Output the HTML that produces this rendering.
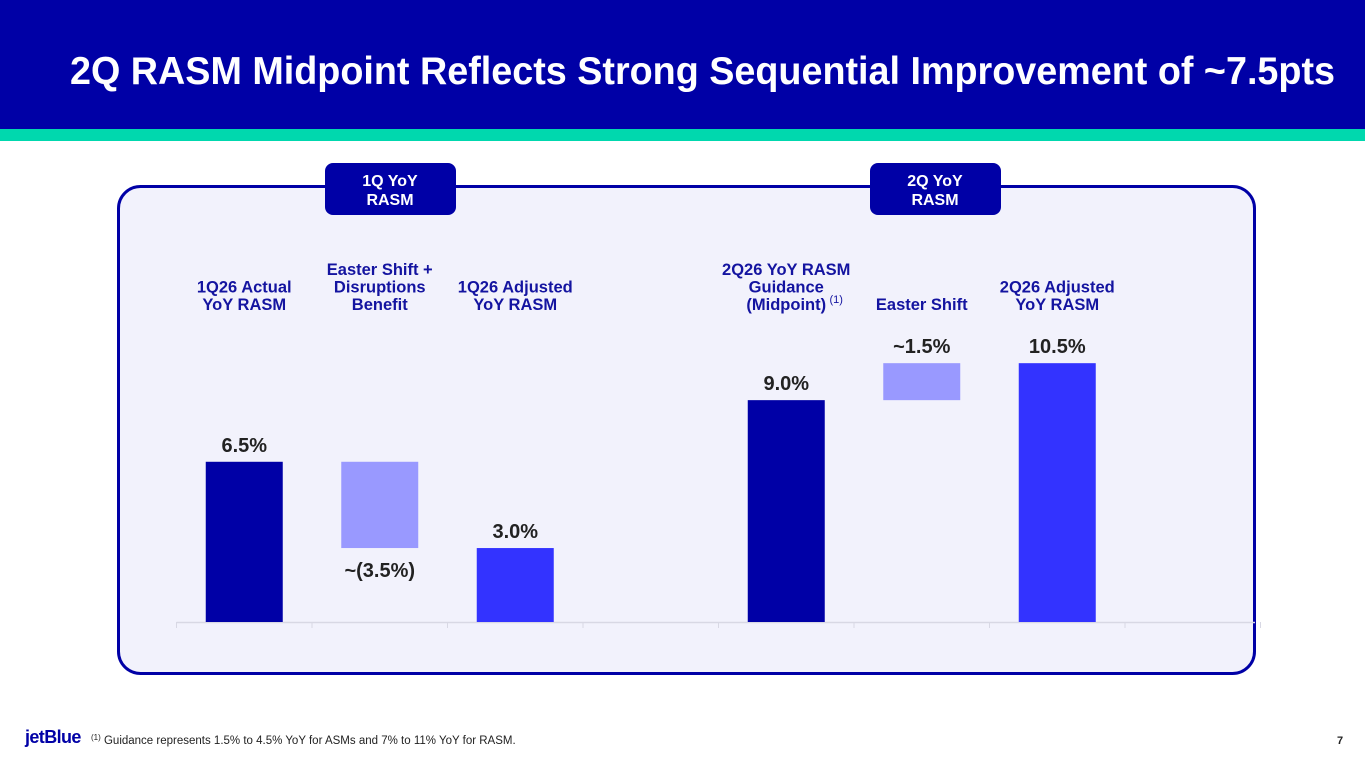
<!DOCTYPE html>
<html><head><meta charset="utf-8"><style>
html,body{margin:0;padding:0;background:#fff}
svg{display:block;font-family:"Liberation Sans",Arial,sans-serif}
</style></head><body>
<svg id="s" width="1365" height="768" viewBox="0 0 1365 768">
<rect x="0" y="0" width="1365" height="129" fill="#0000A6"/>
<rect x="0" y="129" width="1365" height="12" fill="#00D8AE"/>
<text x="70" y="84" fill="#fff" font-size="39" font-weight="bold" textLength="1265" lengthAdjust="spacingAndGlyphs">2Q RASM Midpoint Reflects Strong Sequential Improvement of ~7.5pts</text>
<rect x="118.5" y="186.5" width="1136" height="487" rx="22" fill="#F2F2FC" stroke="#0000A6" stroke-width="3"/>
<g>
<rect x="325" y="163" width="131" height="52" rx="8" fill="#0000A6"/>
<text x="390" y="186" fill="#fff" font-size="16" font-weight="bold" text-anchor="middle">1Q YoY</text>
<text x="390" y="205" fill="#fff" font-size="16" font-weight="bold" text-anchor="middle">RASM</text>
</g>
<g>
<rect x="870" y="163" width="131" height="52" rx="8" fill="#0000A6"/>
<text x="935" y="186" fill="#fff" font-size="16" font-weight="bold" text-anchor="middle">2Q YoY</text>
<text x="935" y="205" fill="#fff" font-size="16" font-weight="bold" text-anchor="middle">RASM</text>
</g>
<g id="chart"></g>
<text x="25" y="743" fill="#0000A6" font-size="18" font-weight="bold" letter-spacing="-0.6">jetBlue</text>
<text x="91" y="744" fill="#222" font-size="11.5"><tspan font-size="8" dy="-4">(1)</tspan><tspan dy="4"> Guidance represents 1.5% to 4.5% YoY for ASMs and 7% to 11% YoY for RASM.</tspan></text>
<text x="1337" y="744" fill="#222" font-size="11" font-weight="bold">7</text>
</svg>
<script>
const categories=[["1Q26 Actual","YoY RASM"],["Easter Shift +","Disruptions","Benefit"],["1Q26 Adjusted","YoY RASM"],[],["2Q26 YoY RASM","Guidance","(Midpoint)"],["Easter Shift"],["2Q26 Adjusted","YoY RASM"],[]];
const starts=[0,6.5,0,null,0,9.0,0,null];
const ends=[6.5,3.0,3.0,null,9.0,10.5,10.5,null];
const valueLabels=["6.5%","~(3.5%)","3.0%","","9.0%","~1.5%","10.5%",""];
const kinds=["total","delta","adjusted","","total","delta","adjusted",""];
const NS="http://www.w3.org/2000/svg";
const g=document.getElementById('chart');
const x0=176.5,step=135.5,base=622,pxPerPt=24.65,barW=77;
const xc=i=>x0+step*i+step/2;
const y=v=>base-v*pxPerPt;
const colors={total:"#0000A6",delta:"#9999FF",adjusted:"#3333FF"};
function mk(tag,attrs){const e=document.createElementNS(NS,tag);for(const k in attrs)e.setAttribute(k,attrs[k]);g.appendChild(e);return e;}
const ax=mk('line',{x1:x0,x2:1255,y1:base+0.5,y2:base+0.5,stroke:"#D8D8E4","stroke-width":1.5});


for(let i=0;i<=categories.length;i++){const t=mk('line',{x1:x0+step*i,x2:x0+step*i,y1:base,y2:base+6,stroke:"#D8D8E4","stroke-width":1});

}
categories.forEach((lines,i)=>{
  const n=lines.length;
  lines.forEach((ln,j)=>{
    const t=mk('text',{x:xc(i),y:310-(n-1-j)*17.5,fill:"#1414A0","font-size":16.5,"font-weight":"bold","text-anchor":"middle"});
    t.textContent=ln;
    
    
  });
  if(i===4){const s=mk('text',{x:xc(i)+50,y:303,fill:"#1414A0","font-size":11,"text-anchor":"middle"});s.textContent="(1)";
  
  }
  if(starts[i]===null)return;
  const top=Math.max(starts[i],ends[i]),bot=Math.min(starts[i],ends[i]);
  const r=mk('rect',{x:xc(i)-barW/2,y:y(top),width:barW,height:y(bot)-y(top),fill:colors[kinds[i]]});
  
  
  const below=ends[i]<starts[i]&&kinds[i]==="delta";
  const lt=mk('text',{x:xc(i),y:below?y(bot)+29:y(top)-10,fill:"#222","font-size":20,"font-weight":"bold","text-anchor":"middle"});
  lt.textContent=valueLabels[i];
  
  
});
</script>
</body></html>
